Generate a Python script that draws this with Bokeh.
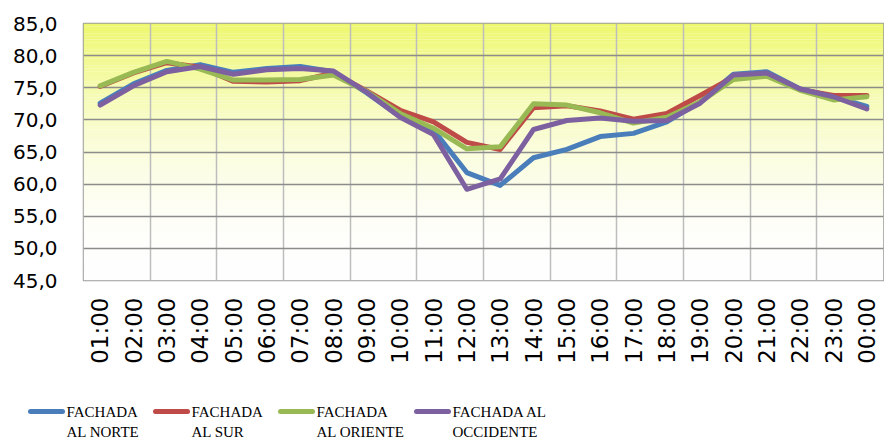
import numpy as np
from bokeh.plotting import figure
from bokeh.layouts import column
from bokeh.models import FixedTicker, CustomJSTickFormatter
from bokeh.embed import file_html
from bokeh.resources import INLINE

hours = ["01:00", "02:00", "03:00", "04:00", "05:00", "06:00", "07:00", "08:00",
         "09:00", "10:00", "11:00", "12:00", "13:00", "14:00", "15:00", "16:00",
         "17:00", "18:00", "19:00", "20:00", "21:00", "22:00", "23:00", "00:00"]

norte = [72.6, 75.6, 77.7, 78.6, 77.4, 78.0, 78.3, 77.5, 74.2, 70.5, 68.4, 61.8,
         59.8, 64.1, 65.4, 67.4, 67.9, 69.7, 72.8, 77.1, 77.5, 74.8, 73.6, 72.1]
sur = [75.2, 77.3, 78.9, 78.2, 76.0, 75.9, 76.1, 77.3, 74.5, 71.5, 69.7, 66.5,
       65.4, 71.9, 72.2, 71.4, 70.1, 71.0, 73.8, 76.7, 77.0, 74.7, 73.8, 73.8]
oriente = [75.3, 77.4, 79.1, 77.9, 76.2, 76.2, 76.3, 77.0, 74.4, 71.0, 68.7, 65.5,
           65.8, 72.5, 72.3, 71.1, 69.5, 70.4, 72.8, 76.3, 76.8, 74.6, 73.1, 73.6]
occidente = [72.3, 75.3, 77.5, 78.3, 77.1, 77.8, 78.0, 77.6, 74.3, 70.4, 67.7, 59.2,
             60.8, 68.5, 69.9, 70.3, 69.8, 69.9, 72.6, 77.0, 77.3, 74.8, 73.6, 71.7]

legend_line1 = ["FACHADA", "FACHADA", "FACHADA", "FACHADA AL"]
legend_line2 = ["AL NORTE", "AL SUR", "AL ORIENTE", "OCCIDENTE"]
series_colors = ["#4A7EBB", "#BE4B48", "#98B954", "#7D60A0"]

y_ticks = [45, 50, 55, 60, 65, 70, 75, 80, 85]
y_min, y_max = 45, 85

n = len(hours)
x = np.arange(n) + 0.5

W = 884
p = figure(width=W, height=368, output_backend="svg", toolbar_location=None,
           x_range=(0, n), y_range=(y_min, y_max),
           min_border_left=83, min_border_right=1, min_border_top=23, min_border_bottom=88)

# background gradient (yellow at top -> white at bottom)
edges = np.linspace(y_min, y_max, 81)
mids = (edges[:-1] + edges[1:]) / 2
t = (mids - y_min) / (y_max - y_min)
f = t ** 2
top_rgb = np.array([238, 248, 110])
cols = []
for fi in f:
    c = (255 * (1 - fi) + top_rgb * fi).astype(int)
    cols.append("#%02x%02x%02x" % tuple(c))
bg = p.quad(left=0, right=n, bottom=edges[:-1], top=edges[1:], fill_color=cols,
            line_color=None)
bg.level = "image"

p.background_fill_color = "white"
p.border_fill_color = "white"
p.outline_line_color = "#9A9A9A"
p.outline_line_width = 1.5

p.ygrid.ticker = FixedTicker(ticks=y_ticks)
p.ygrid.grid_line_color = "#8C8C8C"
p.ygrid.grid_line_width = 1.5
p.xgrid.ticker = FixedTicker(ticks=list(range(0, n + 1, 2)))
p.xgrid.grid_line_color = "#BDBDBD"
p.xgrid.grid_line_width = 1.5

for vals, col in zip([norte, sur, oriente, occidente], series_colors):
    p.line(x, vals, line_color=col, line_width=5, line_join="round", line_cap="round")

p.yaxis.ticker = FixedTicker(ticks=y_ticks)
p.yaxis.formatter = CustomJSTickFormatter(code="return tick.toFixed(1).replace('.', ',');")
p.xaxis.ticker = FixedTicker(ticks=list(x))
p.xaxis.formatter = CustomJSTickFormatter(args=dict(labels=hours),
                                          code="return labels[Math.floor(tick)];")
p.xaxis.major_label_orientation = np.pi / 2
for ax in (p.xaxis, p.yaxis):
    ax.axis_line_color = None
    ax.major_tick_line_color = None
    ax.minor_tick_line_color = None
    ax.major_tick_out = 0
    ax.major_tick_in = 0
    ax.major_label_text_font = "DejaVu Sans"
    ax.major_label_text_color = "#000000"
p.yaxis.major_label_text_font_size = "20px"
p.xaxis.major_label_text_font_size = "23px"
p.yaxis.major_label_standoff = 26
p.xaxis.major_label_standoff = 17

# legend drawn in its own strip below the chart (layout positions in pixels)
LH = 72
leg = figure(width=W, height=LH, output_backend="svg", toolbar_location=None,
             x_range=(0, W), y_range=(0, LH), min_border=0,
             x_axis_type=None, y_axis_type=None)
try:
    leg.frame_align = False
except Exception:
    pass
leg.outline_line_color = None
leg.grid.visible = False
leg.background_fill_color = "white"
leg.border_fill_color = "white"
item_x = [30, 155, 280, 416]
glyph_w = 32
row1, row2 = 29, 9
leg.segment(x0=item_x, y0=[row1] * 4, x1=[v + glyph_w for v in item_x], y1=[row1] * 4,
            line_color=series_colors, line_width=5, line_cap="round")
leg.text(x=[v + glyph_w + 4 for v in item_x], y=[row1] * 4, text=legend_line1,
         text_font={"value": "Liberation Serif"}, text_font_size="15px",
         text_baseline="middle", text_color="#000000")
leg.text(x=[v + glyph_w + 4 for v in item_x], y=[row2] * 4, text=legend_line2,
         text_font={"value": "Liberation Serif"}, text_font_size="15px",
         text_baseline="middle", text_color="#000000")

layout = column(p, leg, spacing=0)
open("out.html", "w").write(file_html(layout, INLINE))
